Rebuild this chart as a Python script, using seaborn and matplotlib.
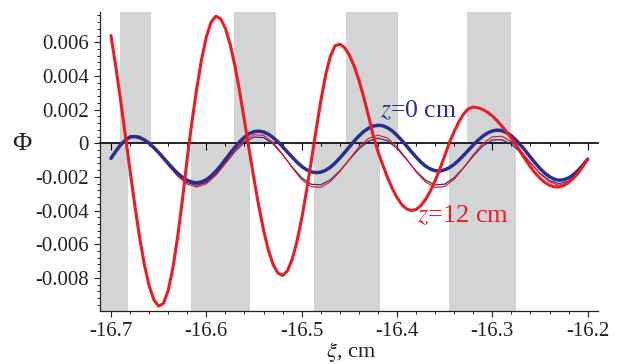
import numpy as np
import pandas as pd
import matplotlib
matplotlib.use("Agg")
import matplotlib.pyplot as plt
import seaborn as sns
from matplotlib.ticker import FixedLocator, MultipleLocator, FuncFormatter

# ---------------- data ----------------
xi_fine = np.round(np.arange(101) * 0.005 - 16.70, 4)     # sampling of the thick curves
xi_coarse = np.round(np.arange(51) * 0.01 - 16.70, 4)     # sampling of the thin curves

phi_z12_thick = [
    0.0064, 0.0046, 0.0026, 0.0005, -0.0016, -0.00368, -0.00558, -0.0072, -0.00846, -0.00931,
    -0.00968, -0.00953, -0.00876, -0.0074, -0.00555, -0.00334, -0.0009, 0.00131, 0.00326, 0.00497,
    0.00632, 0.0072, 0.00755, 0.0074, 0.00684, 0.00588, 0.0046, 0.00306, 0.00135, -0.00042,
    -0.00213, -0.00373, -0.00515, -0.00633, -0.00719, -0.00771, -0.00786, -0.00759, -0.00691, -0.00586,
    -0.00449, -0.00287, -0.0011, 0.00073, 0.0025, 0.00402, 0.00515, 0.00579, 0.00589, 0.00569,
    0.00525, 0.00459, 0.00376, 0.00276, 0.00165, 0.00048, -0.00049, -0.00128, -0.00202, -0.00268,
    -0.00323, -0.00364, -0.0039, -0.004, -0.00394, -0.00371, -0.00334, -0.00284, -0.00222, -0.00152,
    -0.00075, 0.00004, 0.0007, 0.00129, 0.00175, 0.00205, 0.00215, 0.00211, 0.00201, 0.00184,
    0.00162, 0.00134, 0.00102, 0.00067, 0.0003, -0.0001, -0.00056, -0.001, -0.00141, -0.00178,
    -0.00208, -0.00233, -0.0025, -0.00259, -0.00259, -0.00251, -0.00234, -0.00209, -0.00177, -0.00138,
    -0.00095,
]

phi_z0_thick = [
    -0.0009, -0.00048, -0.0001, 0.00018, 0.00037, 0.0004, 0.00033, 0.0002, 0.0, -0.00026,
    -0.00055, -0.00087, -0.00119, -0.0015, -0.00179, -0.00202, -0.0022, -0.00231, -0.00235, -0.0023,
    -0.00217, -0.00195, -0.00167, -0.00134, -0.00097, -0.0006, -0.00024, 0.00009, 0.00036, 0.00057,
    0.00069, 0.00072, 0.00067, 0.00054, 0.00034, 0.00009, -0.0002, -0.00052, -0.00082, -0.00112,
    -0.00137, -0.00157, -0.0017, -0.00175, -0.00172, -0.00161, -0.00143, -0.00118, -0.00088, -0.00056,
    -0.00022, 0.00012, 0.00043, 0.00069, 0.00089, 0.00102, 0.00107, 0.00104, 0.00092, 0.00073,
    0.00047, 0.00017, -0.00016, -0.0005, -0.00082, -0.00112, -0.00136, -0.00153, -0.00163, -0.00165,
    -0.00158, -0.00145, -0.00125, -0.001, -0.00071, -0.00041, -0.0001, 0.00018, 0.00042, 0.00061,
    0.00073, 0.00078, 0.00075, 0.00063, 0.00044, 0.00018, -0.00013, -0.00047, -0.00083, -0.00118,
    -0.0015, -0.00178, -0.00199, -0.00214, -0.0022, -0.00217, -0.00206, -0.00187, -0.00161, -0.00129,
    -0.00094,
]

phi_z0_thin = [
    -0.0009, -0.0001, 0.00037, 0.00033, -0.00002, -0.0006, -0.00128, -0.0019, -0.00234, -0.0025,
    -0.00233, -0.00186, -0.0012, -0.0005, 0.00006, 0.00037, 0.00034, -0.00004, -0.00068, -0.00141,
    -0.00205, -0.00244, -0.00247, -0.00218, -0.00164, -0.00098, -0.00034, 0.00012, 0.0003, 0.00015,
    -0.00031, -0.00096, -0.00165, -0.0022, -0.00248, -0.00243, -0.00205, -0.00144, -0.00076, -0.00016,
    0.00019, 0.00021, -0.00006, -0.00056, -0.00118, -0.00178, -0.00222, -0.0024, -0.00225, -0.00174,
    -0.001,
]

phi_z12_thin = [
    -0.0009, -0.00005, 0.00045, 0.00043, 0.00005, -0.00057, -0.0013, -0.00196, -0.00243, -0.0026,
    -0.00241, -0.0019, -0.00119, -0.00044, 0.00017, 0.00051, 0.00047, 0.00005, -0.00065, -0.00145,
    -0.00216, -0.00258, -0.00262, -0.00229, -0.00169, -0.00095, -0.00023, 0.00028, 0.00048, 0.00031,
    -0.00021, -0.00093, -0.0017, -0.00231, -0.00263, -0.00257, -0.00214, -0.00145, -0.00068, -0.00002,
    0.00038, 0.00041, 0.0001, -0.00046, -0.00115, -0.00181, -0.0023, -0.0025, -0.00233, -0.00179,
    -0.001,
]

band_upper_start = [-16.690, -16.571, -16.453, -16.327]
band_upper_end = [-16.658, -16.527, -16.399, -16.280]
band_lower_start = [-16.712, -16.616, -16.487, -16.345]
band_lower_end = [-16.682, -16.554, -16.418, -16.275]

x_ticks = [-16.7, -16.6, -16.5, -16.4, -16.3, -16.2]
y_ticks = [-0.008, -0.006, -0.004, -0.002, 0.0, 0.002, 0.004, 0.006]

label_z0 = "$z$=0 cm"
label_z12 = "$z$=12 cm"

# ---------------- style ----------------
sns.set_style("ticks")
plt.rcParams["font.family"] = ["Liberation Serif", "DejaVu Serif"]
plt.rcParams["mathtext.fontset"] = "stix"

RED = "#ED1C24"
BLUE = "#2B2E8C"
GRAY = "#D3D4D6"

fig = plt.figure(figsize=(6.23, 3.64), dpi=100)
ax = fig.add_axes([0.1605, 0.1456, 0.7989, 0.8214])

xlo, xhi = -16.7115, -16.1895
ylo, yhi = -0.00997, 0.0078
ax.set_xlim(xlo, xhi)
ax.set_ylim(ylo, yhi)
frac0 = (0 - ylo) / (yhi - ylo)

for s, e in zip(band_upper_start, band_upper_end):
    ax.axvspan(s, e, ymin=frac0, ymax=1, color=GRAY, lw=0, zorder=0.5)
for s, e in zip(band_lower_start, band_lower_end):
    ax.axvspan(s, e, ymin=0, ymax=frac0, color=GRAY, lw=0, zorder=0.5)

line_kw = dict(solid_joinstyle="round", solid_capstyle="round")
sns.lineplot(x=xi_coarse, y=phi_z0_thin, ax=ax, color=BLUE, linewidth=0.9, zorder=3, **line_kw)
sns.lineplot(x=xi_coarse, y=phi_z12_thin, ax=ax, color=RED, linewidth=0.9, zorder=3.1, **line_kw)
sns.lineplot(x=xi_fine, y=phi_z0_thick, ax=ax, color=BLUE, linewidth=2.5, zorder=3.2, **line_kw)
sns.lineplot(x=xi_fine, y=phi_z12_thick, ax=ax, color=RED, linewidth=2.2, zorder=3.3, **line_kw)

# axes styling
for side in ["top", "right"]:
    ax.spines[side].set_visible(False)
for side in ["left", "bottom"]:
    ax.spines[side].set_linewidth(0.9)
    ax.spines[side].set_color("#222222")

ax.xaxis.set_major_locator(FixedLocator(x_ticks))
ax.xaxis.set_minor_locator(MultipleLocator(0.02))
ax.yaxis.set_major_locator(FixedLocator(y_ticks))
ax.yaxis.set_minor_locator(MultipleLocator(0.0004))
ax.xaxis.set_major_formatter(FuncFormatter(lambda v, p: f"{v:.1f}"))
ax.yaxis.set_major_formatter(FuncFormatter(lambda v, p: "0" if abs(v) < 1e-9 else f"{v:.3f}"))
ax.tick_params(axis="both", which="major", direction="out", length=4, width=0.8,
               labelsize=15, colors="#222222", pad=4)
ax.tick_params(axis="both", which="minor", direction="out", length=2, width=0.7, colors="#222222")

# zero axis line with ticks
secax = ax.secondary_xaxis(frac0)
secax.set_zorder(1.5)
for sp in secax.spines.values():
    sp.set_linewidth(1.2)
    sp.set_color("black")
secax.xaxis.set_major_locator(FixedLocator(x_ticks))
secax.xaxis.set_minor_locator(MultipleLocator(0.02))
secax.tick_params(axis="x", which="major", direction="in", length=5, width=0.8,
                  labeltop=False, labelbottom=False, colors="black")
secax.tick_params(axis="x", which="minor", direction="in", length=2.5, width=0.7,
                  labeltop=False, labelbottom=False, colors="black")

ax.set_ylabel("Φ", rotation=0, fontsize=19, color="#222222")
ax.yaxis.set_label_coords(-0.157, 0.5585)
ax.yaxis.label.set_va("center")
ax.set_xlabel("$\\xi$, cm", fontsize=16, color="#222222")
ax.xaxis.set_label_coords(0.504, -0.137)
ax.xaxis.label.set_va("center")

ax.text(-16.4177, 0.00155, label_z0, color=BLUE, fontsize=18.5, ha="left", va="baseline", zorder=5)
ax.text(-16.3789, -0.00472, label_z12, color=RED, fontsize=19, ha="left", va="baseline", zorder=5)

fig.savefig("out.png", dpi=100)
